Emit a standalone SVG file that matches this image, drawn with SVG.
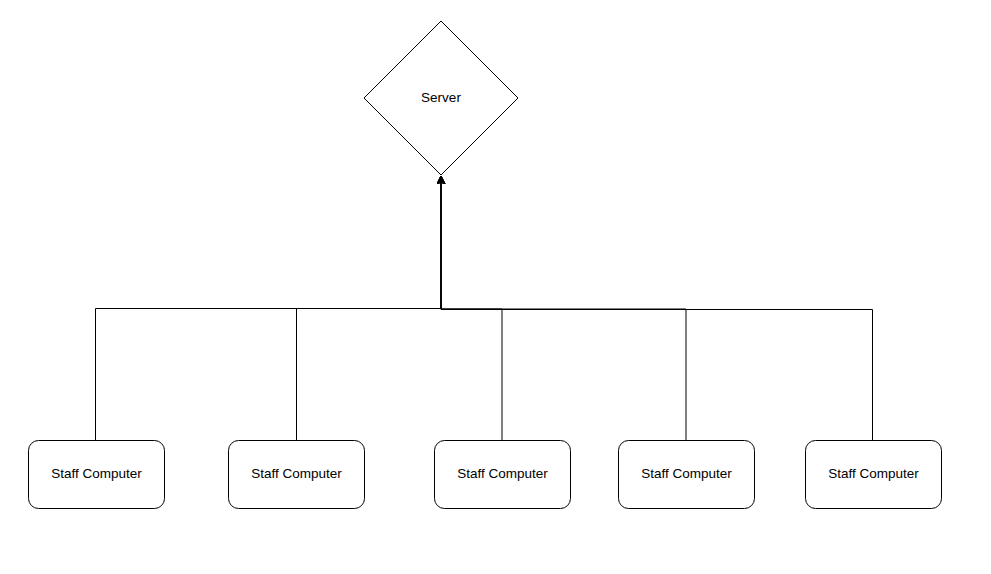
<svg xmlns="http://www.w3.org/2000/svg" width="991" height="574" viewBox="0 0 991 574">
<style>
.n{fill:#fff;stroke:#000;stroke-width:1}
.t{font-family:"Liberation Sans",Arial,sans-serif;font-size:13.5px;fill:#000;text-anchor:middle;dominant-baseline:central}
.e{fill:none;stroke:#000;stroke-width:1}
</style>
<defs>
<marker id="ar" markerWidth="10" markerHeight="10" refX="8" refY="4" orient="auto" markerUnits="userSpaceOnUse">
<path d="M0,0 L8,4 L0,8 L2,4 Z" fill="#000" stroke="#000" stroke-width="1"/>
</marker>
</defs>
<rect width="991" height="574" fill="#fff"/>
<g id="edges">
<path class="e" d="M95.5,440 V308.5 H441 V176" marker-end="url(#ar)"/>
<path class="e" d="M296.5,440 V308.5 H441 V176" marker-end="url(#ar)"/>
<path class="e" d="M502,440 V309 H441 V176" marker-end="url(#ar)"/>
<path class="e" d="M686,440 V309 H441 V176" marker-end="url(#ar)"/>
<path class="e" d="M872.5,440 V309.5 H441 V176" marker-end="url(#ar)"/>
</g>
<g id="server">
<path class="n" d="M441,21 L518,98 L441,175 L364,98 Z"/>
<text class="t" x="441" y="97.5">Server</text>
</g>
<g id="pc1">
<rect class="n" x="28.5" y="440.5" width="136" height="68" rx="10"/>
<text class="t" x="96.5" y="473.5">Staff Computer</text>
</g>
<g id="pc2">
<rect class="n" x="228.5" y="440.5" width="136" height="68" rx="10"/>
<text class="t" x="296.5" y="473.5">Staff Computer</text>
</g>
<g id="pc3">
<rect class="n" x="434.5" y="440.5" width="136" height="68" rx="10"/>
<text class="t" x="502.5" y="473.5">Staff Computer</text>
</g>
<g id="pc4">
<rect class="n" x="618.5" y="440.5" width="136" height="68" rx="10"/>
<text class="t" x="686.5" y="473.5">Staff Computer</text>
</g>
<g id="pc5">
<rect class="n" x="805.5" y="440.5" width="136" height="68" rx="10"/>
<text class="t" x="873.5" y="473.5">Staff Computer</text>
</g>
</svg>
